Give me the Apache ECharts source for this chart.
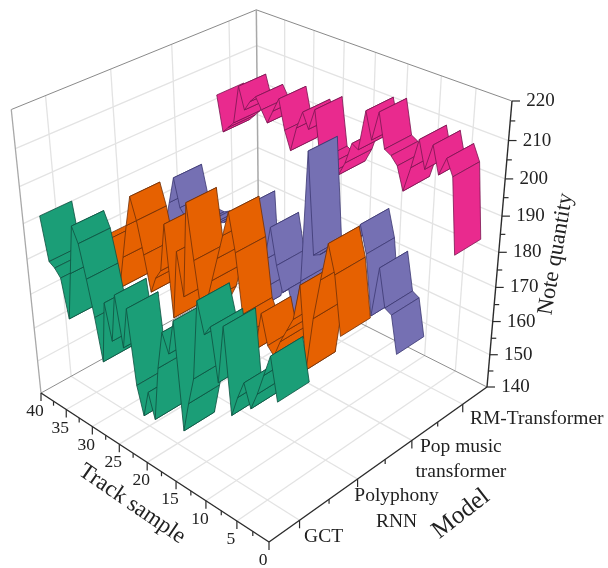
<!DOCTYPE html><html><head><meta charset="utf-8"><script src="https://cdn.jsdelivr.net/npm/echarts@6/dist/echarts.min.js"></script></head><body style="margin:0;background:#fff"><div id="c" style="width:608px;height:568px"></div>
<script>
var tracks=[1,2,3,4,5,6,7,8,9,10,11,12,13,14,15,16,17,18,19,20,21,22,23,24,25,26,27,28,29,30,31,32,33,34,35,36,37,38,39,40];
var models=['GCT','Polyphony\nRNN','Pop music\ntransformer','RM-Transformer'];
var gct=[175,186,180,174,169,175,170,164,187,171,185,182,190,168,160,151,181,171,176,165,149,156,148,156,177,165,179,165,175,157,169,179,188,192,178,164,175,177,178,190];
var polyphonyRnn=[182,197,204,194,183,168,190,180,176,172,167,169,177,166,170,174,190,200,193,186,179,172,168,182,197,170,182,162,188,174,171,166,176,185,191,182,172,162,176,176];
var popMusic=[167,177,178,188,174,190,197,192,190,190,189,186,184,183,210,174,163,170,168,175,185,175,165,158,188,184,183,182,180,179,178,176,176,175,175,176,178,186,178,170];
var rmTransformer=[185,205,209,204,211,204,211,203,196,202,204,205,214,206,213,202,203,197,193,193,194,195,208,202,206,201,194,199,207,203,199,202,205,203,200,206,195,193,191,201];
var trackTicks=[0,5,10,15,20,25,30,35,40];
var valueTicks=[140,150,160,170,180,190,200,210,220];
var seriesColors=['#1b9e77','#e66101','#7570b3','#e92a8e'];
var edgeColors=['#0f5140','#6e2f08','#3c3872','#7a1550'];
var LS='"Liberation Serif","Times New Roman",serif';

function sq2q(p){var x0=p[0][0],y0=p[0][1],x1=p[1][0],y1=p[1][1],x2=p[2][0],y2=p[2][1],x3=p[3][0],y3=p[3][1];
 var dx1=x1-x2,dx2=x3-x2,sx=x0-x1+x2-x3,dy1=y1-y2,dy2=y3-y2,sy=y0-y1+y2-y3;
 var d=dx1*dy2-dx2*dy1,g=(sx*dy2-dx2*sy)/d,h=(dx1*sy-sx*dy1)/d;
 return [x1-x0+g*x1,x3-x0+h*x3,x0,y1-y0+g*y1,y3-y0+h*y3,y0,g,h,1];}
var H=sq2q([[269,542],[41,393],[259,272],[487,387]]),V=[284,2709];
function hom(u,v){return [H[0]*u+H[1]*v+H[2],H[3]*u+H[4]*v+H[5],H[6]*u+H[7]*v+1];}
var k=hom(0,1)[2]*(1/((V[1]-101)/(V[1]-387))-1);
function P(t,m,val){var h=hom(t/40,(m-.5)/4),z=(val-140)/80,w=h[2]+k*z;return [(h[0]+k*z*V[0])/w,(h[1]+k*z*V[1])/w];}

function wallSeries(idx,vals){
 var data=[];for(var i=vals.length-2;i>=0;i--)data.push([tracks[i],vals[i],tracks[i+1],vals[i+1]]);
 return {type:'custom',coordinateSystem:'cartesian2d',z:10+(3-idx),silent:true,clip:false,data:data,encode:{x:0,y:1},
  renderItem:function(p,api){var m=idx+1,d=.25,t0=api.value(0),v0=api.value(1),t1=api.value(2),v1=api.value(3);
   var q=[P(t0,m-d,v0),P(t0,m+d,v0),P(t1,m+d,v1),P(t1,m-d,v1)].map(function(a){return api.coord(a)});
   return {type:'polygon',shape:{points:q},style:{fill:seriesColors[idx],stroke:edgeColors[idx],lineWidth:.8,lineJoin:'round'}};}};
}
function ln(api,a,b,c,w){var s=api.coord(a),e=api.coord(b);return {type:'line',shape:{x1:s[0],y1:s[1],x2:e[0],y2:e[1]},style:{stroke:c,lineWidth:w}};}
function txt(api,s,x,y,f,rot,color){var c=api.coord([x,y]);return {type:'text',x:c[0],y:c[1],rotation:rot||0,style:{text:s,font:f+'px '+LS,fill:color||'#222',align:'center',verticalAlign:'middle',lineHeight:f*1.32}};}

var frameSeries={type:'custom',coordinateSystem:'cartesian2d',z:2,silent:true,clip:false,data:[[0,0]],
 renderItem:function(p,api){var ch=[],G='#e3e3e3',gw=1.3;
  var mLo=.5,mHi=4.5,vLo=140,vHi=220;
  valueTicks.slice(1,-1).forEach(function(v){ch.push(ln(api,P(40,mLo,v),P(40,mHi,v),G,gw));ch.push(ln(api,P(40,mHi,v),P(0,mHi,v),G,gw));});
  [1,2,3,4].forEach(function(m){ch.push(ln(api,P(40,m,vLo),P(40,m,vHi),G,gw));ch.push(ln(api,P(0,m,vLo),P(40,m,vLo),G,gw));});
  trackTicks.slice(1,-1).forEach(function(t){ch.push(ln(api,P(t,mHi,vLo),P(t,mHi,vHi),G,gw));ch.push(ln(api,P(t,mLo,vLo),P(t,mHi,vLo),G,gw));});
  ch.push(ln(api,P(40,mLo,vHi),P(40,mHi,vHi),'#8a8a8a',1));ch.push(ln(api,P(40,mHi,vHi),P(0,mHi,vHi),'#8a8a8a',1));
  ch.push(ln(api,P(40,mLo,vLo),P(40,mLo,vHi),'#a8a8a8',1.3));ch.push(ln(api,P(40,mHi,vLo),P(40,mHi,vHi),'#a8a8a8',1.5));
  ch.push(ln(api,P(40,mLo,vLo),P(40,mHi,vLo),'#8f8f8f',1));ch.push(ln(api,P(40,mHi,vLo),P(0,mHi,vLo),'#8f8f8f',1));
  return {type:'group',children:ch};}};
var axisSeries={type:'custom',coordinateSystem:'cartesian2d',z:20,silent:true,clip:false,data:[[0,0]],
 renderItem:function(p,api){var ch=[],A='#2b2b2b',aw=1.4;
  function off(a,dx,dy){return [a[0]+dx,a[1]+dy];}
  ch.push(ln(api,P(0,.5,140),P(40,.5,140),A,aw));ch.push(ln(api,P(0,.5,140),P(0,4.5,140),A,aw));ch.push(ln(api,P(0,4.5,140),P(0,4.5,220),A,aw));
  for(var t=0;t<=40;t+=2.5){var a=P(t,.5,140),maj=t%5===0;ch.push(ln(api,a,off(a,0,maj?8:4.5),A,1.2));}
  for(var m=1;m<=4.01;m+=.5){var b=P(0,m,140),mj=m%1===0;ch.push(ln(api,b,off(b,0,mj?8:4.5),A,1.2));}
  for(var v=140;v<=220;v+=5){var c=P(0,4.5,v),mv=v%10===0;ch.push(ln(api,c,off(c,mv?8:5,0),A,1.2));}
  trackTicks.forEach(function(t){var a=P(t,.5,140);ch.push(txt(api,String(t),a[0]-6,a[1]+18.5,17.5));});
  valueTicks.forEach(function(v){var c=P(0,4.5,v);ch.push(txt(api,String(v),c[0]+28.5,c[1],19));});
  var mo=[[24,17],[39,30],[49,19],[74,15]];
  models.forEach(function(s,i){var b=P(0,i+1,140);ch.push(txt(api,s,b[0]+mo[i][0],b[1]+mo[i][1],19.5));});
  ch.push(txt(api,'Track sample',132,504,23,-.6));
  ch.push(txt(api,'Model',461,514,25,.66));
  ch.push(txt(api,'Note quantity',556,254,22.5,1.4));
  return {type:'group',children:ch};}};
var chart=echarts.init(document.getElementById('c'),null,{renderer:'canvas'});
chart.setOption({animation:false,backgroundColor:'#fff',
 grid:{left:0,right:0,top:0,bottom:0},
 xAxis:{type:'value',min:0,max:608,show:false},yAxis:{type:'value',min:0,max:568,inverse:true,show:false},
 series:[frameSeries,wallSeries(3,rmTransformer),wallSeries(2,popMusic),wallSeries(1,polyphonyRnn),wallSeries(0,gct),axisSeries]});
</script></body></html>
